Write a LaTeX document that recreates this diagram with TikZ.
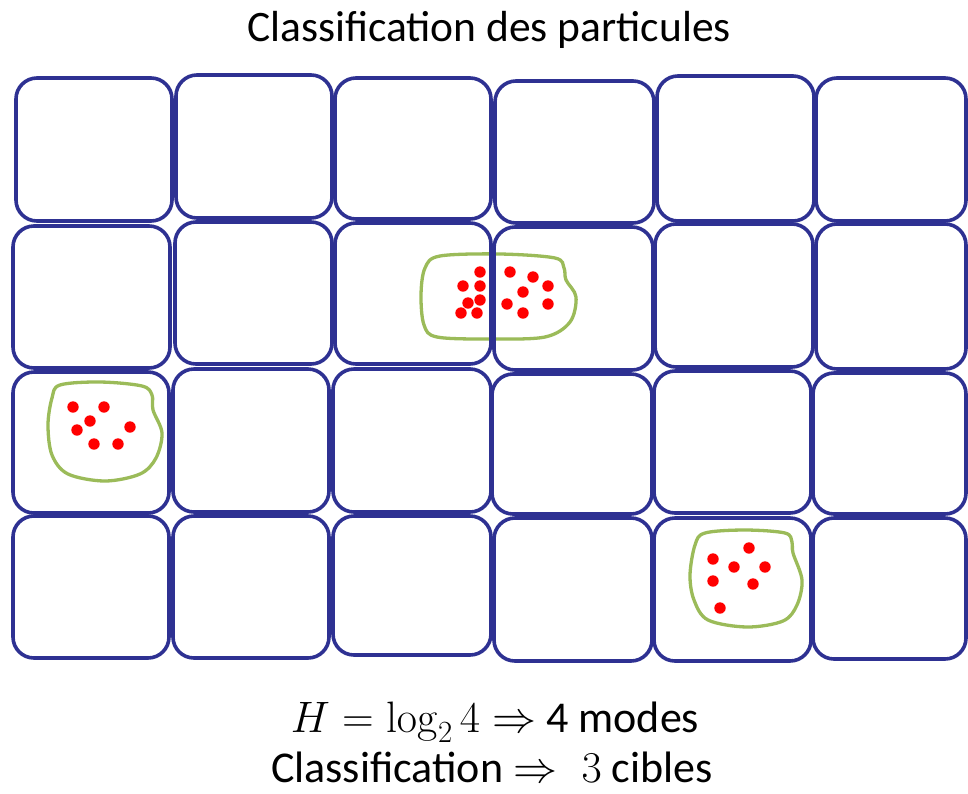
\documentclass[tikz,border=0pt]{standalone}
\usepackage{fix-cm}
\usepackage[no-math]{fontspec}
\setmainfont{Carlito}
\definecolor{navy}{HTML}{2E3192}
\definecolor{leaf}{HTML}{9BBB59}
\definecolor{dotred}{HTML}{FF0000}

\begin{document}
\begin{tikzpicture}[x=1pt,y=-1pt]
  \path[fill=white] (0,0) rectangle (968,793);

  % Hand-drawn clusters, under the grid lines.
  \draw[leaf,line width=3.3pt] plot[smooth cycle,tension=.55] coordinates {
    (440,256) (500,254) (555,258) (564,268) (566,280) (576,297) (570,322)
    (545,337) (490,339) (437,337) (424,325) (421,295) (425,268)};
  \draw[leaf,line width=3.3pt] plot[smooth cycle,tension=.55] coordinates {
    (60,385) (100,382) (142,386) (152,395) (153,410) (162,433) (156,458)
    (140,474) (105,481) (68,474) (52,455) (48,425) (52,398)};
  \draw[leaf,line width=3.3pt] plot[smooth cycle,tension=.55] coordinates {
    (705,533) (745,530) (785,533) (792,542) (793,553) (802,580) (797,605)
    (783,621) (747,627) (708,620) (694,600) (690,575) (695,545)};

  % Cells of the partition, row by row.
  \foreach \xa/\ya/\xb/\yb in {
      16/78/172/221, 176/75/332/218, 335/78/491/219, 495/81/654/223, 657/76/814/221, 816/78/966/221,
      13/226/170/368, 175/222/332/364, 335/223/491/364, 494/227/653/370, 655/224/813/367, 816/224/966/369,
      13/372/169/513, 173/369/329/512, 333/369/491/512, 492/374/652/514, 654/371/811/513, 813/373/966/514,
      13/516/169/658, 173/516/329/658, 333/516/491/655, 494/518/652/661, 654/518/811/661, 813/518/966/659}
    \draw[navy,line width=3.6pt,rounded corners=21pt] (\xa,\ya) rectangle (\xb,\yb);

  % Particles.
  \foreach \x/\y in {480/272, 510/272, 533/277, 463/286, 480/286, 548/286, 523/292,
      480/300, 468/303, 507/304, 548/304, 461/313, 477/313, 523/313,
      73/407, 104/407, 90/421, 77/430, 130/427, 94/444, 118/444,
      749/548, 713/559, 734/567, 765/567, 713/581, 753/584, 720/608}
    \fill[dotred] (\x,\y) circle (5.7pt);

  \node[font=\fontsize{43.5}{48}\selectfont] (title) at (489,30) {Classification des particules};
  \node[font=\fontsize{44}{48}\selectfont,anchor=base,inner sep=1pt] (modes) at (495,732)
    {$H=\log_2 4\Rightarrow$ 4 modes};
  \node[font=\fontsize{44}{48}\selectfont,anchor=base,inner sep=1pt] (targets) at (492,782)
    {Classification $\Rightarrow\;3$ cibles};
\end{tikzpicture}
\end{document}
